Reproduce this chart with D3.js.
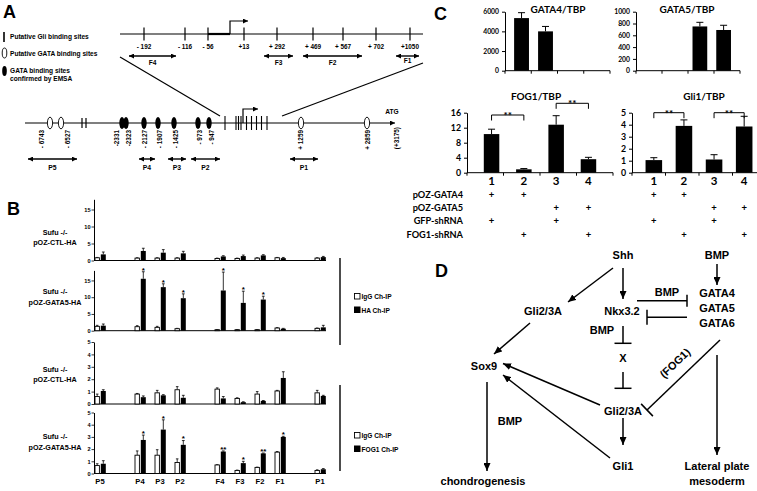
<!DOCTYPE html>
<html><head><meta charset="utf-8">
<script src="https://cdn.jsdelivr.net/npm/d3@7"></script>
<style>
body{margin:0;background:#fff}
svg{display:block}
text{font-family:"Liberation Sans",Arial,sans-serif;font-weight:bold;fill:#000}
.lato{font-family:Lato,"Liberation Sans",sans-serif}
</style></head><body>
<svg id="fig" width="757" height="491"></svg>
<script>
// ================= DATA =================
// Panel B: ChIP enrichment
const bSites = ["P5","P4","P3","P2","F4","F3","F2","F1","P1"];
const bSlots = [0,2,3,4,6,7,8,9,11];
const haCtlIgG    = [0.8,0.7,0.7,0.7,0.6,0.6,0.7,0.8,0.7];
const haCtlIgGErr = [0.9,0.8,0.8,0.8,0.7,0.7,0.8,0.9,0.8];
const haCtlHA     = [1.8,2.8,2.3,2.1,1.2,1.3,1.5,0.7,1.0];
const haCtlHAErr  = [2.5,3.6,3.2,2.7,1.4,1.6,1.7,0.9,1.2];
const haG5IgG     = [1.3,1.2,1.0,0.6,0.3,0.3,0.3,0.8,0.7];
const haG5IgGErr  = [1.6,1.5,1.3,0.7,0.35,0.35,0.35,0.9,0.8];
const haG5HA      = [1.5,15.5,13.0,9.7,12.0,8.3,9.3,0.6,1.0];
const haG5HAErr   = [2.0,17.6,14.0,11.0,17.5,11.8,10.3,0.7,1.6];
const haG5Stars   = ["","*","*","*","*","*","*","",""];
const fgCtlIgG    = [0.6,0.8,0.9,1.15,1.2,0.45,0.8,1.05,0.9];
const fgCtlIgGErr = [0.8,0.85,1.1,1.4,1.3,0.5,1.0,1.1,1.1];
const fgCtlFOG    = [1.05,0.55,0.7,0.5,0.45,0.15,0.25,2.1,0.65];
const fgCtlFOGErr = [1.15,0.65,0.75,0.7,0.6,0.18,0.28,2.6,0.7];
const fgG5IgG     = [0.65,1.5,1.5,0.9,0.7,0.25,0.5,1.75,0.25];
const fgG5IgGErr  = [0.8,1.85,1.95,1.2,0.72,0.28,0.52,1.8,0.3];
const fgG5FOG     = [0.8,2.75,3.6,2.35,1.8,0.85,1.65,3.0,0.35];
const fgG5FOGErr  = [1.05,3.15,4.4,2.7,1.85,1.0,1.68,3.05,0.4];
const fgG5Stars   = ["","*","*","*","**","*","**","*",""];
const bTicksHA = [0,5,10,15];
const bTicksFOG = [0,1,2,3,4,5];

// Panel C: qPCR
const cLanes = ["1","2","3","4"];
const gata4Vals = [5350,4000,0,0];
const gata4Err  = [5900,4500,0,0];
const gata5Vals = [0,0,750,690];
const gata5Err  = [0,0,820,770];
const fog1Vals  = [10.3,0.9,12.8,3.6];
const fog1Err   = [11.6,1.1,15.2,4.1];
const gli1Vals  = [1.05,3.9,1.1,3.85];
const gli1Err   = [1.25,4.4,1.5,4.7];
const gata4Ticks = [0,2000,4000,6000];
const gata5Ticks = [0,200,400,600,800,1000];
const fog1Ticks  = [0,4,8,12,16];
const gli1Ticks  = [0,1,2,3,4,5];
const cRows = ["pOZ-GATA4","pOZ-GATA5","GFP-shRNA","FOG1-shRNA"];
const cPlus = [[1,1,0,0],[0,0,1,1],[1,0,1,0],[0,1,0,1]];
const sigPairs = [[0,1],[2,3]];

// Panel A schematic labels
const topSiteLabels = ["- 192","- 116","- 56","+13","+ 292","+ 469","+ 567","+ 702","+1050"];
const fragLabels = ["F4","F3","F2","F1"];
const lowSiteLabels = ["- 6743","- 6527","-2331","-2323","- 2127","- 1907","- 1425","- 973","- 947","+ 1259","+ 2859"];
const promLabels = ["P5","P4","P3","P2","P1"];

// ================= DRAWING =================
const svg = d3.select("#fig");
const defs = svg.append("defs");
function mk(id,len,wid){
  defs.append("marker").attr("id",id).attr("viewBox",`0 0 ${len} ${wid}`)
    .attr("refX",len).attr("refY",wid/2).attr("markerWidth",len).attr("markerHeight",wid)
    .attr("markerUnits","userSpaceOnUse").attr("orient","auto-start-reverse")
    .append("path").attr("d",`M0,0L${len},${wid/2}L0,${wid}Z`).attr("fill","#000");
}
mk("arrD",8,7); mk("arrA",5,5);

function line(g,x1,y1,x2,y2,w,extra){
  const l=g.append("line").attr("x1",x1).attr("y1",y1).attr("x2",x2).attr("y2",y2)
    .attr("stroke","#000").attr("stroke-width",w||1);
  if(extra) extra(l);
  return l;
}
function txt(g,x,y,s,size,anchor,cls){
  return g.append("text").attr("x",x).attr("y",y).text(s).attr("font-size",size)
    .attr("text-anchor",anchor||"start").attr("class",cls||null);
}
function panelLetter(x,y,s){ txt(svg,x,y,s,18,"start"); }

// ---------- Panel A ----------
const A = svg.append("g");
panelLetter(3,18,"A");
line(A,4,32,4,42,1.6);
A.append("ellipse").attr("cx",4.5).attr("cy",53).attr("rx",2.3).attr("ry",5).attr("fill","#fff").attr("stroke","#000").attr("stroke-width",0.9);
A.append("ellipse").attr("cx",4.5).attr("cy",71).attr("rx",2.3).attr("ry",5).attr("fill","#000");
txt(A,10,39,"Putative Gli binding sites",6.6);
txt(A,10,56,"Putative GATA binding sites",6.6);
txt(A,10,72.5,"GATA binding sites",6.6);
txt(A,10,80.5,"confirmed by EMSA",6.6);

const topX = [144,185,208,244,277,313,343,376,410];
line(A,120,34,423,34,1.2);
line(A,208,34,230,34,2.2);
topX.forEach((x,i)=>{ line(A,x,27.5,x,40.5,1.2); txt(A,x,49,topSiteLabels[i],6.4,"middle"); });
A.append("path").attr("d","M230,34V21H248").attr("fill","none").attr("stroke","#000").attr("stroke-width",1.2).attr("marker-end","url(#arrA)");
const fragX = [[129,176],[264,293],[303,362],[396,419]];
fragX.forEach((p,i)=>{
  line(A,p[0],56,p[1],56,1.4,l=>l.attr("marker-start","url(#arrA)").attr("marker-end","url(#arrA)"));
  txt(A,(p[0]+p[1])/2,i===3?62.5:64.5,fragLabels[i],6.6,"middle");
});
line(A,120,57,220,116,1.2);
line(A,282,116,423,63,1.2);

line(A,25,123,395,123,1.2,l=>l.attr("marker-end","url(#arrA)"));
line(A,82,118,82,128,1.2); line(A,86,118,86,128,1.2);
[225,236,238.5,241,246.5,251.5,256.5,261.5,267].forEach(x=>line(A,x,116,x,130,1.1));
A.append("path").attr("d","M243,123V109H258").attr("fill","none").attr("stroke","#000").attr("stroke-width",1.2).attr("marker-end","url(#arrA)");
const openEll = [50,61,301,367];
openEll.forEach(x=>A.append("ellipse").attr("cx",x).attr("cy",123).attr("rx",2.6).attr("ry",5.8).attr("fill","#fff").attr("stroke","#000").attr("stroke-width",0.9));
const fillEll = [122,126,144,158,174,198,209];
fillEll.forEach(x=>A.append("ellipse").attr("cx",x).attr("cy",123).attr("rx",2.7).attr("ry",6).attr("fill","#000"));
const lowLabX = [42,68,117,129,145,160,176,200,212,301,368];
lowLabX.forEach((x,i)=>{
  A.append("text").attr("transform",`translate(${x},130) rotate(-90)`).attr("dy","0.35em")
   .attr("text-anchor","end").attr("font-size",6.4).text(lowSiteLabels[i]);
});
txt(A,392,114,"ATG",6.6,"middle");
A.append("text").attr("transform","translate(397,127) rotate(-90)").attr("dy","0.35em")
  .attr("text-anchor","end").attr("font-size",6.4).text("(+3175)");
const promX = [[28,77],[139,155],[168,186],[191,220],[290,318]];
promX.forEach((p,i)=>{
  line(A,p[0],159,p[1],159,1.4,l=>l.attr("marker-start","url(#arrA)").attr("marker-end","url(#arrA)"));
  txt(A,(p[0]+p[1])/2,170,promLabels[i],6.8,"middle");
});

// ---------- Panel B ----------
panelLetter(7,215,"B");
const bx = d3.scaleLinear().domain([0,11]).range([100,320]);
function drawB(baseY,topY,max,ticks,igg,iggErr,fg,fgErr,stars,lab1){
  const g = svg.append("g");
  const y = d3.scaleLinear().domain([0,max]).range([baseY,topY]);
  const ax = g.append("g").attr("transform","translate(94,0)")
    .call(d3.axisLeft(y).tickValues(ticks).tickFormat(d3.format("d")).tickSize(2.5).tickPadding(1).tickSizeOuter(0));
  ax.attr("font-size",5.6);
  ax.select(".domain").attr("stroke-width",1);
  ax.selectAll(".tick line").attr("stroke-width",0.8);
  line(g,94,baseY,326,baseY,1);
  bSlots.forEach((s,i)=>{
    const c = bx(s);
    const o0=c-5, ow=4.4;
    line(g,o0+ow/2,y(igg[i]),o0+ow/2,y(iggErr[i]),0.8);
    line(g,o0+ow/2-1.3,y(iggErr[i]),o0+ow/2+1.3,y(iggErr[i]),0.8);
    g.append("rect").attr("x",o0).attr("y",y(igg[i])).attr("width",ow).attr("height",baseY-y(igg[i]))
      .attr("fill","#fff").attr("stroke","#000").attr("stroke-width",0.9);
    const f0=c+0.8, fw=5;
    line(g,f0+fw/2,y(fg[i]),f0+fw/2,y(fgErr[i]),0.8);
    line(g,f0+fw/2-1.4,y(fgErr[i]),f0+fw/2+1.4,y(fgErr[i]),0.8);
    g.append("rect").attr("x",f0).attr("y",y(fg[i])).attr("width",fw).attr("height",baseY-y(fg[i])).attr("fill","#000");
    if(stars && stars[i]) txt(g,f0+fw/2,y(fgErr[i])+0.8,stars[i],8,"middle");
  });
  txt(g,55,lab1[0],"Sufu -/-",7.2,"middle");
  txt(g,55,lab1[1],lab1[2],7.2,"middle");
  return y;
}
drawB(260.5,199.3,18,bTicksHA,haCtlIgG,haCtlIgGErr,haCtlHA,haCtlHAErr,null,[235,245,"pOZ-CTL-HA"]);
drawB(330.7,270.4,18,bTicksHA,haG5IgG,haG5IgGErr,haG5HA,haG5HAErr,haG5Stars,[294,304.5,"pOZ-GATA5-HA"]);
drawB(404,342,5,bTicksFOG,fgCtlIgG,fgCtlIgGErr,fgCtlFOG,fgCtlFOGErr,null,[371.5,382,"pOZ-CTL-HA"]);
drawB(473.5,412.5,5,bTicksFOG,fgG5IgG,fgG5IgGErr,fgG5FOG,fgG5FOGErr,fgG5Stars,[439,450,"pOZ-GATA5-HA"]);
bSlots.forEach((s,i)=>txt(svg,bx(s),484,bSites[i],7.6,"middle"));
function bLegend(y0,y1,ly,second){
  line(svg,340,y0,340,y1,1.4);
  svg.append("rect").attr("x",354.5).attr("y",ly-5.5).attr("width",5.5).attr("height",5.5).attr("fill","#fff").attr("stroke","#000").attr("stroke-width",0.9);
  txt(svg,361.5,ly,"IgG Ch-IP",6.6);
  svg.append("rect").attr("x",354).attr("y",ly+7.5).attr("width",6.5).attr("height",6.5).attr("fill","#000");
  txt(svg,361.5,ly+13.5,second,6.6);
}
bLegend(258,345,299,"HA Ch-IP");
bLegend(385,471,438,"FOG1 Ch-IP");

// ---------- Panel C ----------
panelLetter(434,20,"C");
function drawC(x0,x1,baseY,topY,max,ticks,vals,errs,pad,title,titleX,titleY,tickFs,sig,sigY){
  const g = svg.append("g");
  const x = d3.scaleBand().domain(cLanes).range([x0,x1]).padding(pad);
  const y = d3.scaleLinear().domain([0,max]).range([baseY,topY]);
  const ax = g.append("g").attr("transform",`translate(${x0},0)`)
    .call(d3.axisLeft(y).tickValues(ticks).tickFormat(d3.format("d")).tickSize(3).tickPadding(3).tickSizeOuter(0));
  ax.attr("font-size",tickFs);
  ax.selectAll("text").attr("class","lato");
  ax.select(".domain").attr("stroke-width",1);
  line(g,x0,baseY,x1,baseY,1);
  const step = (x1-x0)/cLanes.length;
  for(let k=0;k<=cLanes.length;k++) line(g,x0+k*step,baseY,x0+k*step,baseY+3,1);
  cLanes.forEach((c,i)=>{
    if(vals[i]<=0) return;
    const cx = x(c)+x.bandwidth()/2;
    line(g,cx,y(vals[i]),cx,y(errs[i]),1);
    line(g,cx-3.5,y(errs[i]),cx+3.5,y(errs[i]),1);
    g.append("rect").attr("x",x(c)).attr("y",y(vals[i])).attr("width",x.bandwidth()).attr("height",baseY-y(vals[i])).attr("fill","#000");
  });
  txt(g,titleX,titleY,title,10,"middle","lato");
  if(sig){
    sigPairs.forEach((p,k)=>{
      const a = x(cLanes[p[0]])+x.bandwidth()/2, b = x(cLanes[p[1]])+x.bandwidth()/2, yy = sigY[k];
      g.append("path").attr("d",`M${a},${yy+5.5}V${yy}H${b}V${yy+5.5}`).attr("fill","none").attr("stroke","#000").attr("stroke-width",1);
      txt(g,(a+b)/2,yy+4,"**",10,"middle","lato");
    });
    cLanes.forEach((c,i)=>{
      const cx = x(c)+x.bandwidth()/2;
      txt(g,cx,185,c,11.5,"middle","lato");
      cRows.forEach((r,j)=>{ if(cPlus[j][i]) txt(g,cx,198+j*13.2,"+",9.5,"middle","lato"); });
    });
  }
  return x;
}
drawC(505,610,70.7,11.7,6000,gata4Ticks,gata4Vals,gata4Err,0.38,"GATA4/TBP",558,13,6.8);
drawC(636,740,70.7,11.7,1000,gata5Ticks,gata5Vals,gata5Err,0.38,"GATA5/TBP",687,13,6.8);
drawC(467,613,172.7,112.7,16,fog1Ticks,fog1Vals,fog1Err,0.52,"FOG1/TBP",536,100,8.8,true,[115,103.3]);
drawC(632,766,172.7,112.7,5,gli1Ticks,gli1Vals,gli1Err,0.45,"Gli1/TBP",704,100,8.8,true,[112.7,112.7]);
cRows.forEach((r,j)=>txt(svg,463,198+j*13.2,r,9.2,"end","lato"));

// ---------- Panel D ----------
panelLetter(435,277,"D");
const D = svg.append("g");
function node(x,y,s){ D.append("text").attr("x",x).attr("y",y).attr("dy","0.35em").attr("text-anchor","middle").attr("font-size",11).text(s); }
node(623,255,"Shh"); node(717,255,"BMP");
node(717,293.5,"GATA4"); node(717,308.5,"GATA5"); node(717,323.5,"GATA6");
node(543,311.5,"Gli2/3A"); node(622,311.5,"Nkx3.2");
node(667,292,"BMP"); node(602,330,"BMP");
node(623,358,"X"); node(484,366.5,"Sox9");
node(623,411.5,"Gli2/3A"); node(510,421.5,"BMP");
node(623,466.5,"Gli1"); node(717,466.5,"Lateral plate"); node(717,481.5,"mesoderm");
node(483,481.5,"chondrogenesis");
D.append("text").attr("transform","translate(675,363) rotate(-43.7)").attr("dy","0.35em").attr("text-anchor","middle").attr("font-size",11).text("(FOG1)");
function arr(x1,y1,x2,y2){ line(D,x1,y1,x2,y2,1.5,l=>l.attr("marker-end","url(#arrD)")); }
function inhib(x1,y1,x2,y2,bar){
  line(D,x1,y1,x2,y2,1.5);
  const dx=x2-x1, dy=y2-y1, L=Math.hypot(dx,dy), nx=-dy/L*bar/2, ny=dx/L*bar/2;
  line(D,x2-nx,y2-ny,x2+nx,y2+ny,1.5);
}
arr(613,268,568,302);
arr(623,268,623,299);
arr(717,264,717,285);
inhib(637,300.7,687,300.7,12);
inhib(687,317.3,647,317.3,15);
inhib(623,326,623,343.3,17);
inhib(623,372,623,388.3,17);
arr(530,323,494,354);
arr(600,405,503,363.5);
arr(610,458,503,375);
arr(623,418,623,445);
inhib(720,340,647,410,17);
arr(717,355,717,455);
arr(487,382,487,471);
</script>
</body></html>
